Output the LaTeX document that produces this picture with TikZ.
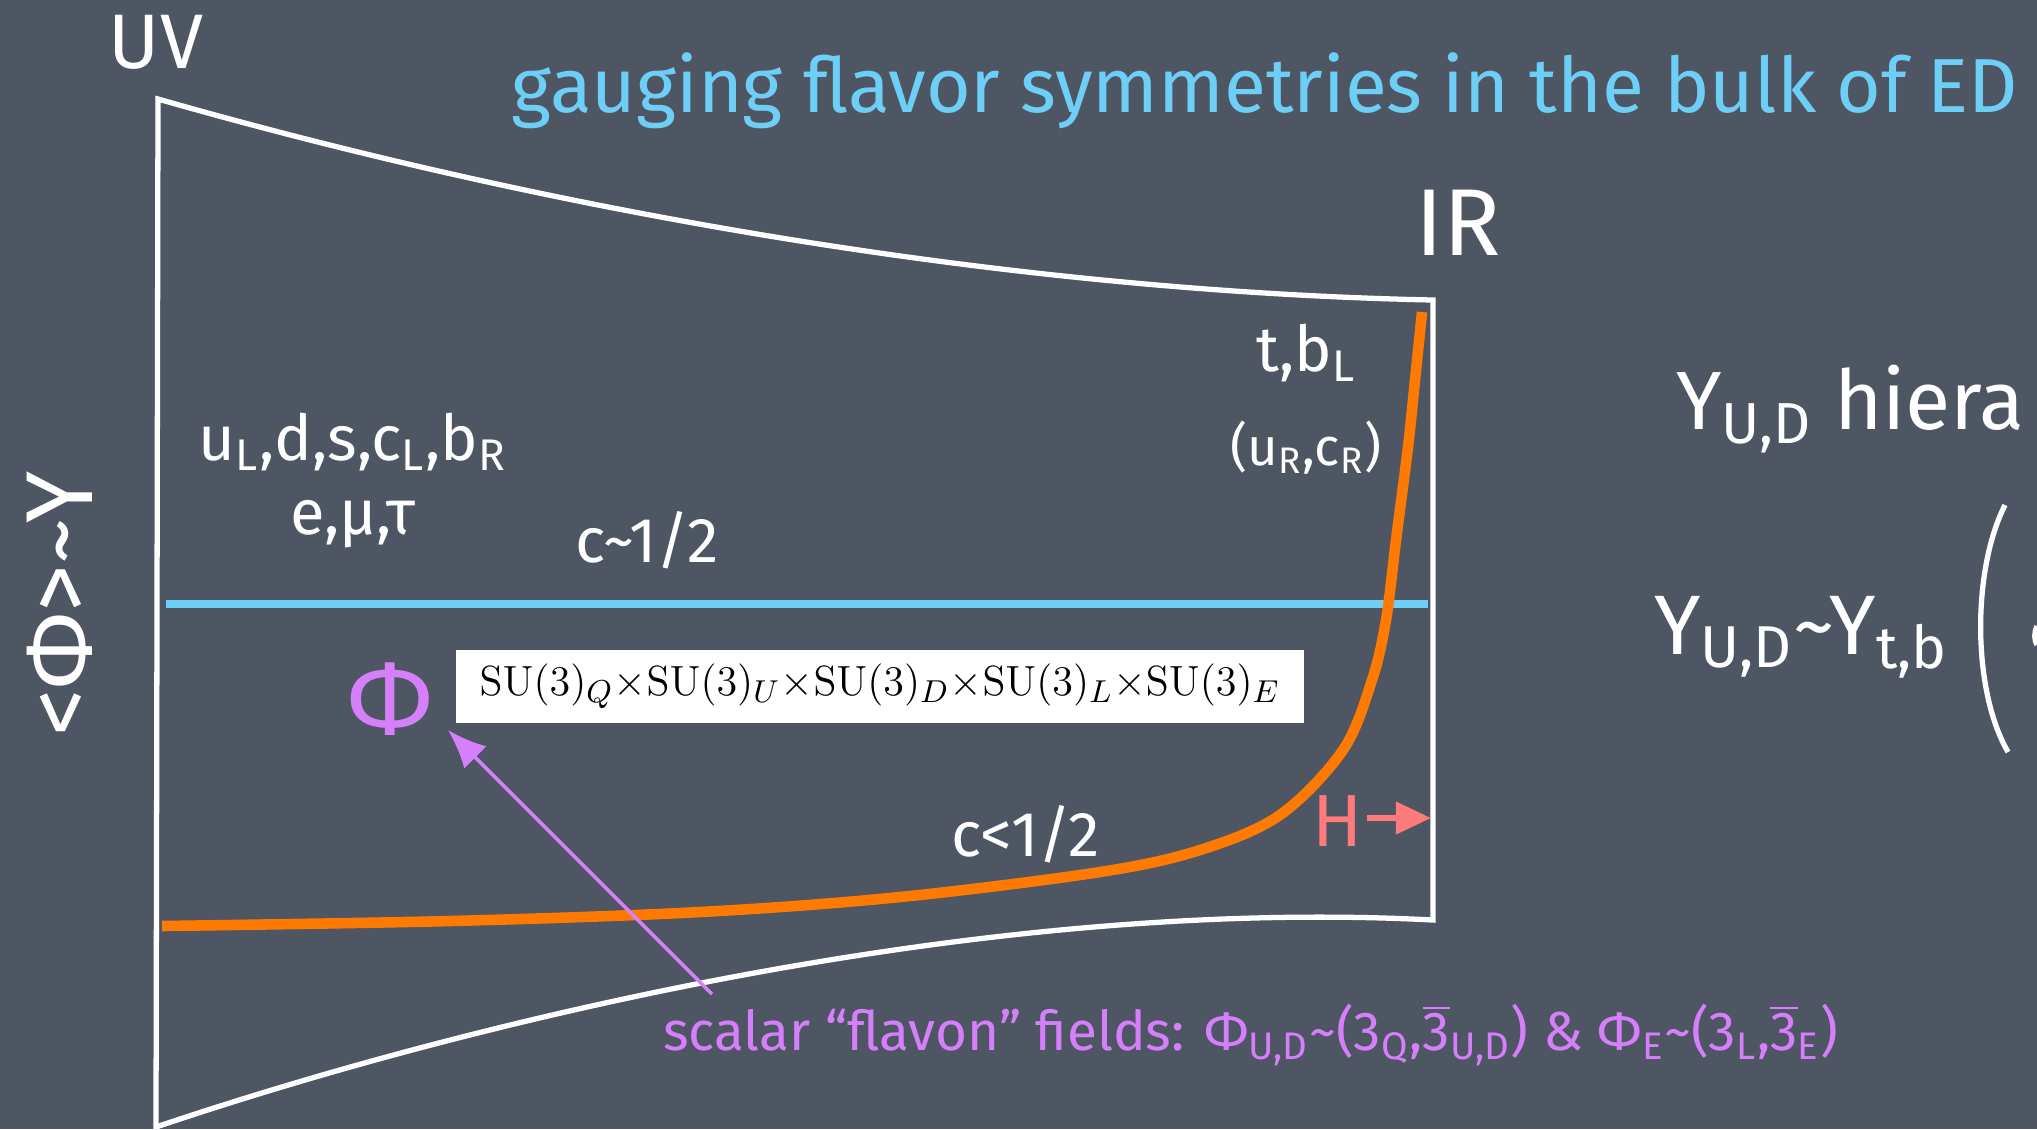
\documentclass[tikz,border=0pt]{standalone}
\usepackage[no-math]{fontspec}
\setmainfont{Fira Sans}
\usetikzlibrary{arrows.meta, positioning, calc}
\definecolor{boardbg}{HTML}{4E5563}
\definecolor{chalkcyan}{HTML}{6DCFF6}
\definecolor{chalkorange}{HTML}{FF7A00}
\definecolor{chalkviolet}{HTML}{D580FA}
\definecolor{chalksalmon}{HTML}{FF7B7B}
\newcommand{\low}[1]{\textsubscript{#1}}
\newcommand{\barthree}{$\overline{\mbox{3}}$}

\begin{document}
\begin{tikzpicture}[
    x=0.01cm, y=-0.01cm,
    >={Latex[length=11pt, width=9pt]},
    % ── shared styles ──
    wall/.style={draw=white, line width=1.5pt, line join=miter},
    brane/.style={draw=chalkcyan, line width=2.4pt},
    profile/.style={draw=chalkorange, line width=3pt},
    chalk/.style={text=white, inner sep=1pt, font=\fontsize{#1}{#1}\selectfont},
    chalk/.default=18,
    title text/.style={text=chalkcyan, inner sep=0pt, font=\fontsize{21.8}{26}\selectfont},
    flavon/.style={text=chalkviolet, inner sep=1pt, font=\fontsize{#1}{#1}\selectfont},
    symm box/.style={fill=white, text=black, inner xsep=5pt, inner ysep=4pt,
        minimum width=8.48cm, minimum height=0.69cm, font=\fontsize{13}{15}\selectfont},
    points to/.style={->, draw=chalkviolet, line width=1pt},
    higgs/.style={->, draw=chalksalmon, line width=1.6pt,
        >={Triangle[length=10pt, width=9pt]}},
]

% ══════════════════════════════════════════════════════════════════════
%  BOARD
% ══════════════════════════════════════════════════════════════════════
\fill[boardbg] (0,0) rectangle (2037,1129);
\useasboundingbox (0,0) rectangle (2037,1129);
\clip (0,0) rectangle (2037,1129);

\node[title text, anchor=base west] (title) at (511,112)
    {gauging flavor symmetries in the bulk of ED};

% ══════════════════════════════════════════════════════════════════════
%  SLICE OF THE EXTRA DIMENSION
% ══════════════════════════════════════════════════════════════════════
\draw[wall] (158,99) .. controls (585,221) and (1039,292) .. (1433,300)
    -- (1433,920) .. controls (974,896) and (455,1026) .. (156,1127) -- cycle;
\node[chalk=22] (uv) at (156,42) {UV};
\node[chalk=27] (ir) at (1458,223) {IR};

% ── brane lines ──
\draw[brane] (166,604) -- (1428,604);
\draw[profile] plot[smooth, tension=0.55] coordinates {
    (162,926) (450,921) (700,912) (900,897) (1100,872) (1200,850)
    (1280,815) (1343,750) (1372,680) (1386,620) (1396,540)
    (1408,447) (1415,380) (1422,312)};

% ── fermion labels ──
\node[chalk] (light) at (353,442) {u\low{L},d,s,c\low{L},b\low{R}};
\node[chalk] (leptons) at (353,524) {e,μ,τ};
\node[chalk] (chalf) at (647,540) {c\textasciitilde 1/2};
\node[chalk] (heavy) at (1306,353) {t,b\low{L}};
\node[chalk=15] (rhanded) at (1306,448) {(u\low{R},c\low{R})};
\node[chalk] (cless) at (1026,834) {c<1/2};

% ── flavon ──
\node[flavon=30] (phi) at (390,699) {Φ};
\node[symm box, anchor=west] (group) at (455,686)
    {$\mathrm{SU}(3)_Q{\times}\mathrm{SU}(3)_U{\times}\mathrm{SU}(3)_D{\times}\mathrm{SU}(3)_L{\times}\mathrm{SU}(3)_E$};
\node[flavon=15.6, anchor=base west] (fields) at (659,1050)
    {scalar “flavon” fields: Φ\low{U,D}\textasciitilde(3\low{Q},\barthree\low{U,D}) \& Φ\low{E}\textasciitilde(3\low{L},\barthree\low{E})};
\coordinate (tail) at (712,994);
\draw[points to] (tail) -- (448,730);

% ── Higgs on the IR brane ──
\node[text=chalksalmon, inner sep=1pt, font=\fontsize{21}{21}\selectfont] (hlabel) at (1338,821) {H};
\coordinate (irwall) at (1431,818);
\draw[higgs] (1367,818) -- (irwall);

% ══════════════════════════════════════════════════════════════════════
%  SIDE TEXT
% ══════════════════════════════════════════════════════════════════════
\node[chalk=27, rotate=90] (vev) at (60,604) {<Φ>\textasciitilde Y};
\node[chalk=23.5, anchor=west] (hier) at (1672,409) {Y\low{U,D} hiera};
\node[chalk=24, anchor=west] (ysim) at (1650,637) {Y\low{U,D}\textasciitilde Y\low{t,b}};
\draw[white, line width=1.5pt] (2005,505) .. controls (1972,570) and (1972,690) .. (2008,752);
\draw[white, line width=1.5pt] (2037,626) .. controls (2034,632) and (2034,640) .. (2037,645);

\end{tikzpicture}
\end{document}
